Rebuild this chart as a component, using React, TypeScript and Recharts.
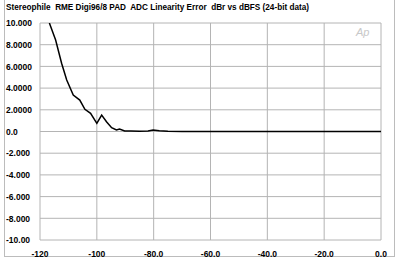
import { useEffect, useState } from 'react';
import { LineChart, Line, XAxis, YAxis, CartesianGrid } from 'recharts';

const levels = [
  -116.7, -114.5, -112.4, -110.6, -108.3, -106, -104.2, -102.2, -100, -98.3, -96.6, -94.8,
  -93.1, -92, -90.2, -88, -85, -82, -80.2, -78, -75, -70, -60, -50, -40, -30, -20, -10, 0,
];
const errors = [
  10, 8.43, 6.29, 4.75, 3.36, 2.9, 2.05, 1.68, 0.75, 1.52, 0.9, 0.35,
  0.14, 0.23, 0.05, 0.05, 0.03, 0.05, 0.14, 0.08, 0.02, 0, 0, 0, 0, 0, 0, 0, 0,
];
const xTicks = [-120, -100, -80, -60, -40, -20, 0];
const xLabels = ['-120', '-100', '-80.0', '-60.0', '-40.0', '-20.0', '0.0'];
const yTicks = [10, 8, 6, 4, 2, 0, -2, -4, -6, -8, -10];
const yLabels = ['10.000', '8.0000', '6.0000', '4.0000', '2.0000', '0.0', '-2.000', '-4.000', '-6.000', '-8.000', '-10.00'];

const data = levels.map((x, i) => ({ x, y: errors[i] }));

const font = 'Arial, "Liberation Sans", Helvetica, sans-serif';

const YTick = ({ y, payload }: any) => {
  const i = yTicks.indexOf(payload.value);
  return (
    <text x={6} y={y} dy={3.2} fontSize={8.5} fontWeight="bold" fontFamily={font} fill="#000" textAnchor="start">
      {yLabels[i]}
    </text>
  );
};

const XTick = ({ x, y, payload }: any) => {
  const i = xTicks.indexOf(payload.value);
  return (
    <text x={x} y={y} dy={9} fontSize={8.5} fontWeight="bold" fontFamily={font} fill="#000" textAnchor="middle">
      {xLabels[i]}
    </text>
  );
};

export default function App() {
  // second render after mount, so the grid layer is filled in
  const [ready, setReady] = useState(false);
  useEffect(() => {
    const t = setTimeout(() => setReady(true), 50);
    return () => clearTimeout(t);
  }, []);

  return (
    <div style={{ position: 'absolute', left: 0, top: 0, width: 400, height: 263, background: '#fff' }}>
      <div
        style={{
          position: 'absolute', left: 4, top: 0, width: 391, height: 257,
          border: '1px solid #bcbcbc', borderTop: 'none', boxSizing: 'border-box',
        }}
      />
      <div
        style={{
          position: 'absolute', left: 6, top: 3, fontFamily: font, fontSize: 8.2,
          fontWeight: 'bold', whiteSpace: 'pre', color: '#000',
        }}
      >
        {'Stereophile  RME Digi96/8 PAD  ADC Linearity Error  dBr vs dBFS (24-bit data)'}
      </div>
      <div
        style={{
          position: 'absolute', left: 356, top: 26, fontFamily: font, fontSize: 11,
          fontStyle: 'italic', color: '#c8c8c8',
        }}
      >
        Ap
      </div>
      <LineChart
        key={ready ? 'b' : 'a'}
        width={400}
        height={263}
        data={data}
        margin={{ top: 23, right: 19, bottom: 5, left: 4 }}
        style={{ position: 'absolute', left: 0, top: 0 }}
      >
        <CartesianGrid stroke="#b4b4b4" fill="none" />
        <XAxis
          dataKey="x"
          type="number"
          domain={[-120, 0]}
          ticks={xTicks}
          interval={0}
          height={18}
          axisLine={false}
          tickLine={false}
          tick={<XTick />}
          allowDataOverflow
        />
        <YAxis
          type="number"
          domain={[-10, 10]}
          ticks={yTicks}
          interval={0}
          width={36}
          axisLine={false}
          tickLine={false}
          tick={<YTick />}
          allowDataOverflow
        />
        <Line
          type="linear"
          dataKey="y"
          stroke="#000"
          strokeWidth={1.5}
          dot={false}
          isAnimationActive={false}
        />
      </LineChart>
    </div>
  );
}
